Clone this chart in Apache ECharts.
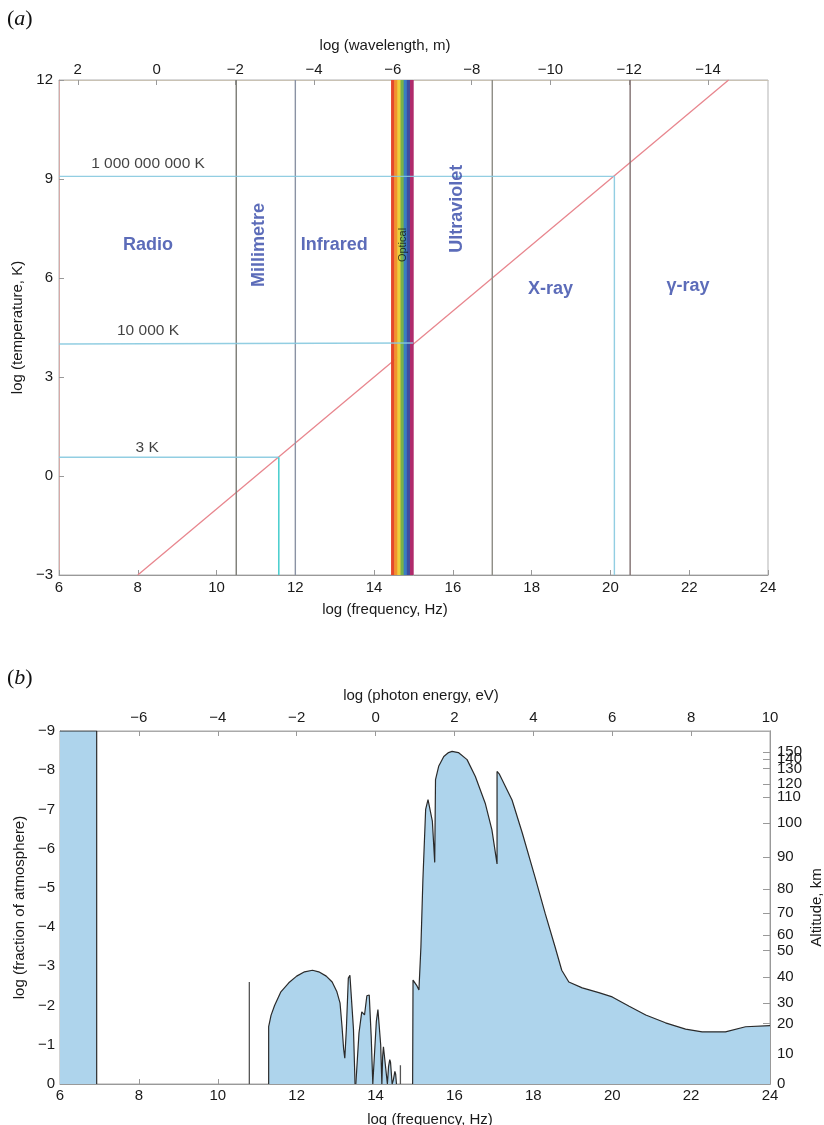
<!DOCTYPE html>
<html><head><meta charset="utf-8">
<script src="https://cdn.jsdelivr.net/npm/echarts@6/dist/echarts.min.js"></script>
<style>html,body{margin:0;padding:0;background:#fff}#c{width:824px;height:1125px}</style>
</head><body><div id="c"></div>
<script>
// ================= Panel (a) data =================
const LOG_C = 8.477;                                   // log10(speed of light)
const wavelengthTicks = [2, 0, -2, -4, -6, -8, -10, -12, -14];
const bandDividers = [10.5, 12, 17, 20.5];
const bandDividerColors = ['#7b7b74', '#8a92a4', '#8e8d86', '#7f6f6f'];
const opticalEdges = [14.43, 14.51, 14.59, 14.67, 14.75, 14.83, 14.91, 14.99];
const opticalColors = ['#e4482c', '#f2922e', '#ebcf3c', '#78b24a', '#3a7ec2', '#3f4da0', '#b02b6b'];
const wienLine = [[8.0, -3], [23.0, 12]];
const line1e9K = [[6, 9.08], [20.1, 9.08], [20.1, -3]];
const line1e4K = [[6, 4.0], [14.99, 4.03]];
const line3K = [[6, 0.57], [11.58, 0.57], [11.58, -3]];
const regionNames = ['Radio', 'Millimetre', 'Infrared', 'Ultraviolet', 'X-ray', '\u03b3-ray'];
const regionPos = [[8.26, 7.0], [11.07, 7.0], [12.99, 7.0], [16.1, 8.1], [18.48, 5.67], [21.97, 5.76]];
const regionRotate = [0, 90, 0, 90, 0, 0];
const opticalLabelPos = [14.72, 7.0];
const tempNames = ['1 000 000 000 K', '10 000 K', '3 K'];
const tempPos = [[8.26, 9.45], [8.26, 4.39], [8.24, 0.85]];

// ================= Panel (b) data =================
const altitudeKm = [0, 10, 20, 30, 40, 50, 60, 70, 80, 90, 100, 110, 120, 130, 140, 150];
const altitudeLogFrac = [0, -0.78, -1.54, -2.07, -2.72, -3.4, -3.8, -4.36, -4.97, -5.79, -6.66, -7.32, -7.65, -8.04, -8.29, -8.47];
const radioBlock = [[6, -9], [6.93, -9], [6.93, 0]];
const spike108 = [[10.8, 0], [10.8, -2.6]];
const spike146 = [[14.63, 0], [14.63, -0.48]];
const infraredHump = [[11.29, 0], [11.29, -1.46], [11.35, -1.75], [11.44, -2.0], [11.6, -2.35], [11.8, -2.58], [12.0, -2.75],
  [12.2, -2.86], [12.4, -2.9], [12.56, -2.86], [12.75, -2.75], [12.9, -2.6], [13.02, -2.35], [13.1, -2.06], [13.15, -1.46],
  [13.19, -0.9], [13.22, -0.66], [13.26, -1.4], [13.31, -2.7], [13.35, -2.77], [13.4, -2.72], [13.44, -1.4], [13.48, 0]];
const nearIrBands = [[13.5, 0], [13.58, -1.3], [13.65, -1.84], [13.72, -1.76], [13.78, -2.25], [13.84, -2.27], [13.89, -1.2],
  [13.93, 0], [13.96, 0], [14.02, -1.6], [14.06, -1.9], [14.1, -1.88], [14.13, -1.0], [14.16, 0], [14.18, -0.7], [14.2, -0.95],
  [14.25, -0.93], [14.3, 0], [14.33, -0.45], [14.36, -0.62], [14.38, -0.55], [14.42, 0], [14.45, -0.1], [14.49, -0.32],
  [14.51, -0.25], [14.53, 0]];
const uvToGamma = [[14.94, 0], [14.95, -2.65], [15.0, -2.68], [15.05, -2.5], [15.1, -2.4], [15.15, -3.5], [15.2, -5.2],
  [15.27, -7.0], [15.33, -7.25], [15.38, -7.2], [15.44, -6.7], [15.5, -5.65], [15.52, -7.76], [15.6, -8.1], [15.73, -8.35],
  [15.85, -8.45], [15.94, -8.48], [16.1, -8.45], [16.32, -8.27], [16.53, -7.84], [16.78, -7.16], [16.95, -6.48], [17.08, -5.61],
  [17.08, -7.97], [17.12, -7.97], [17.14, -7.9], [17.18, -7.92], [17.46, -7.24], [17.72, -6.4], [18.05, -5.25], [18.3, -4.35],
  [18.55, -3.5], [18.72, -2.9], [18.9, -2.6], [19.24, -2.45], [19.66, -2.33], [20.0, -2.22], [20.43, -1.98], [20.85, -1.76],
  [21.35, -1.56], [21.86, -1.4], [22.28, -1.33], [22.87, -1.33], [23.38, -1.46], [24, -1.49]];

// ================= Chart =================
const FONT = 'Liberation Sans, Arial, Helvetica, sans-serif';
const TXT = '#1a1a1a';
const fmtMinus = v => (v < 0 ? '\u2212' + Math.abs(v) : String(v));
const tickStyle = {show: true, inside: true, length: 5, lineStyle: {color: '#999', width: 1}};
const labelStyle = m => ({color: TXT, fontSize: 15, fontFamily: FONT, margin: m, formatter: fmtMinus, hideOverlap: false});
const nameStyle = pad => ({color: TXT, fontSize: 15, fontFamily: FONT, padding: pad});
const axLine = color => ({show: true, onZero: false, lineStyle: {color}});

const series = [];
// optical rainbow stripes
series.push({
  type: 'custom', xAxisIndex: 0, yAxisIndex: 0, z: 2,
  data: opticalColors.map((c, i) => [opticalEdges[i], opticalEdges[i + 1], i]),
  renderItem: (params, api) => {
    const p0 = api.coord([api.value(0), 12]);
    const p1 = api.coord([api.value(1), -3]);
    return {type: 'rect', shape: {x: p0[0], y: p0[1], width: p1[0] - p0[0] + 0.6, height: p1[1] - p0[1]},
      style: {fill: opticalColors[api.value(2)]}};
  }
});
const lineA = (data, color, width, z, opacity) => ({
  type: 'line', xAxisIndex: 0, yAxisIndex: 0, data, symbol: 'none', silent: true, z: z || 3,
  lineStyle: {color, width: width || 1.2, opacity: opacity == null ? 1 : opacity}
});
bandDividers.forEach((f, i) => series.push(lineA([[f, -3], [f, 12]], bandDividerColors[i], 1.4)));
series.push(lineA(wienLine, '#e8868e', 1.3, 1));
series.push(lineA(line1e9K, '#86c9df', 1.4, 4, 0.9));
series.push(lineA(line1e4K, '#86c9df', 1.4, 4, 0.9));
series.push(lineA([line3K[0], line3K[1]], '#86c9df', 1.4, 4, 0.9));
series.push(lineA([line3K[1], line3K[2]], '#4fcfcf', 1.6, 4));
// region labels
series.push({
  type: 'scatter', xAxisIndex: 0, yAxisIndex: 0, symbolSize: 0, silent: true, z: 6,
  data: regionNames.map((n, i) => ({name: n, value: regionPos[i], label: {rotate: regionRotate[i]}})),
  label: {show: true, position: 'inside', formatter: p => p.name, color: '#3347a8', fontSize: 18,
    fontWeight: 'bold', fontFamily: FONT}
});
series.push({
  type: 'scatter', xAxisIndex: 0, yAxisIndex: 0, symbolSize: 0, silent: true, z: 6,
  data: [{name: 'Optical', value: opticalLabelPos}],
  label: {show: true, position: 'inside', rotate: 90, formatter: p => p.name, color: '#111', fontSize: 11, fontFamily: FONT}
});
series.push({
  type: 'scatter', xAxisIndex: 0, yAxisIndex: 0, symbolSize: 0, silent: true, z: 6,
  data: tempNames.map((n, i) => ({name: n, value: tempPos[i]})),
  label: {show: true, position: 'inside', formatter: p => p.name, color: '#111', fontSize: 15.5, fontFamily: FONT}
});

// panel (b)
const FILL = '#aed4ec';
const areaB = data => ({
  type: 'line', xAxisIndex: 2, yAxisIndex: 1, data, symbol: 'none', silent: true, z: 3,
  lineStyle: {color: '#2a2a2a', width: 1.2}, areaStyle: {color: FILL, opacity: 1, origin: 0}
});
const lineB = data => ({
  type: 'line', xAxisIndex: 2, yAxisIndex: 1, data, symbol: 'none', silent: true, z: 3,
  lineStyle: {color: '#555', width: 1.3}
});
series.push(areaB(radioBlock));
series.push(lineB(spike108));
series.push(areaB(infraredHump));
series.push(areaB(nearIrBands));
series.push(lineB(spike146));
series.push(areaB(uvToGamma));

// altitude axis: split alternating ticks over two overlaid right axes so crowded labels are all kept
const altFormatter = v => {
  let best = 0;
  altitudeLogFrac.forEach((p, i) => { if (Math.abs(p - v) < Math.abs(altitudeLogFrac[best] - v)) best = i; });
  return String(altitudeKm[best]);
};
const altEven = altitudeLogFrac.filter((p, i) => i % 2 === 0);
const altOdd = altitudeLogFrac.filter((p, i) => i % 2 === 1);
const altAxis = (vals, withName) => ({
  gridIndex: 1, type: 'value', position: 'right', min: -9, max: 0, inverse: true,
  name: withName ? 'Altitude, km' : '', nameLocation: 'middle', nameGap: 39, nameRotate: 90,
  nameMoveOverlap: false, nameTextStyle: nameStyle(0),
  axisLine: axLine('#999'),
  axisTick: Object.assign({}, tickStyle, {length: 7, customValues: vals}),
  axisLabel: {customValues: vals, color: TXT, fontSize: 15, fontFamily: FONT, margin: 7, hideOverlap: false,
    lineHeight: 13, formatter: altFormatter},
  splitLine: {show: false}
});

const option = {
  animation: false,
  backgroundColor: '#ffffff',
  textStyle: {fontFamily: FONT},
  grid: [
    {left: 59, width: 709, top: 80, height: 495, show: true, borderColor: '#b3b3b3', borderWidth: 1,
      backgroundColor: 'transparent', containLabel: false, outerBoundsMode: 'none'},
    {left: 60, width: 710, top: 731, height: 353, show: true, borderColor: '#a9a9a9', borderWidth: 1,
      backgroundColor: 'transparent', containLabel: false, outerBoundsMode: 'none'}
  ],
  xAxis: [
    {gridIndex: 0, type: 'value', position: 'bottom', min: 6, max: 24, interval: 2,
      name: 'log (frequency, Hz)', nameLocation: 'middle', nameGap: 27, nameTextStyle: nameStyle([0, 57, 0, 0]),
      axisLine: axLine('#999'), axisTick: tickStyle, axisLabel: labelStyle(5), splitLine: {show: false}},
    {gridIndex: 0, type: 'value', position: 'top', min: LOG_C - 24, max: LOG_C - 6, inverse: true,
      name: 'log (wavelength, m)', nameLocation: 'middle', nameGap: 27, nameTextStyle: nameStyle([0, 57, 0, 0]),
      axisLine: axLine('#c9c2b4'),
      axisTick: Object.assign({}, tickStyle, {customValues: wavelengthTicks}),
      axisLabel: Object.assign(labelStyle(3), {customValues: wavelengthTicks}), splitLine: {show: false}},
    {gridIndex: 1, type: 'value', position: 'bottom', min: 6, max: 24, interval: 2,
      name: 'log (frequency, Hz)', nameLocation: 'middle', nameGap: 28, nameTextStyle: nameStyle([0, 0, 0, 30]),
      axisLine: axLine('#999'), axisTick: tickStyle, axisLabel: labelStyle(4), splitLine: {show: false}},
    {gridIndex: 1, type: 'value', position: 'top', min: -8, max: 10, interval: 2,
      name: 'log (photon energy, eV)', nameLocation: 'middle', nameGap: 28, nameTextStyle: nameStyle([0, 0, 0, 12]),
      axisLine: axLine('#aaa'), axisTick: tickStyle,
      axisLabel: Object.assign(labelStyle(6), {showMinLabel: false}), splitLine: {show: false}}
  ],
  yAxis: [
    {gridIndex: 0, type: 'value', min: -3, max: 12, interval: 3,
      name: 'log (temperature, K)', nameLocation: 'middle', nameGap: 31, nameTextStyle: nameStyle(0),
      axisLine: axLine('#d6aaa8'), axisTick: tickStyle, axisLabel: labelStyle(6), splitLine: {show: false}},
    {gridIndex: 1, type: 'value', min: -9, max: 0, interval: 1, inverse: true,
      name: 'log (fraction of atmosphere)', nameLocation: 'middle', nameGap: 32, nameTextStyle: nameStyle(0),
      axisLine: axLine('#999'), axisTick: tickStyle, axisLabel: labelStyle(5), splitLine: {show: false}},
    altAxis(altEven, true),
    altAxis(altOdd, false)
  ],
  graphic: [
    {type: 'text', left: 7, top: 8, style: {text: '{p|(}{i|a}{p|)}', fill: '#111',
      rich: {p: {fontFamily: 'Liberation Serif', fontSize: 22, fill: '#111'}, i: {fontFamily: 'Liberation Serif', fontStyle: 'italic', fontSize: 22, fill: '#111'}}}},
    {type: 'text', left: 7, top: 667, style: {text: '{p|(}{i|b}{p|)}', fill: '#111',
      rich: {p: {fontFamily: 'Liberation Serif', fontSize: 22, fill: '#111'}, i: {fontFamily: 'Liberation Serif', fontStyle: 'italic', fontSize: 22, fill: '#111'}}}}
  ],
  series
};
const chart = echarts.init(document.getElementById('c'), null, {renderer: 'canvas'});
chart.setOption(option);
</script></body></html>
